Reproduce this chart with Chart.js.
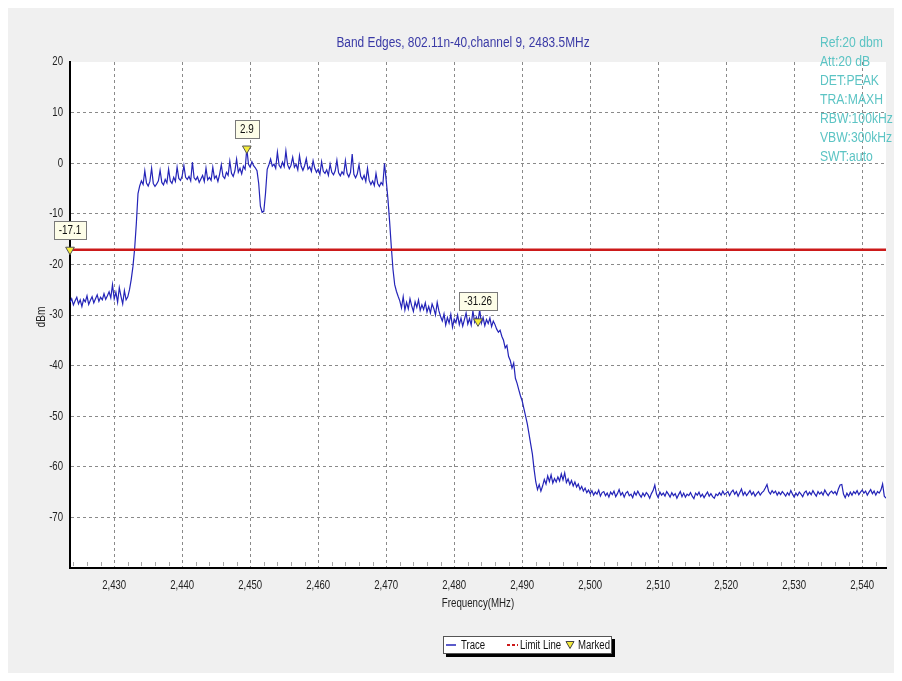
<!DOCTYPE html>
<html><head><meta charset="utf-8">
<script src="https://cdn.jsdelivr.net/npm/chart.js@4.4.1/dist/chart.umd.min.js"></script>
<style>html,body{margin:0;padding:0;background:#fff;}#wrap{width:902px;height:681px;}</style>
</head><body><div id="wrap"><canvas id="c" width="902" height="681" style="width:902px;height:681px"></canvas></div>
<script>
const FONT = '"Liberation Sans",Arial,sans-serif';
const titleText = 'Band Edges, 802.11n-40,channel 9, 2483.5MHz';
const settingsText = ['Ref:20 dbm','Att:20 dB','DET:PEAK','TRA:MAXH','RBW:100kHz','VBW:300kHz','SWT:auto'];
const xTitle = 'Frequency(MHz)';
const yTitle = 'dBm';
const legendLabels = ['Trace','Limit Line','Marked'];
const xTickVals = [2430,2440,2450,2460,2470,2480,2490,2500,2510,2520,2530,2540];
const yTickVals = [-70,-60,-50,-40,-30,-20,-10,0,10,20];
const freqStart = 2423.5, freqStop = 2543.5, freqStep = 0.25;

// trace segments (dBm), sampled every 0.25 MHz from 2423.5 MHz
const lowerSkirt = [-27.5,-26.8,-28.0,-27.2,-26.5,-27.8,-27.0,-28.3,-26.9,-27.4,-26.2,-27.9,-27.1,-26.4,-27.6,-26.8,-26.0,-27.3,-26.5,-27.0,-25.8,-26.9,-26.2,-25.4,-26.6,-24.0,-26.8,-25.5,-27.5,-24.6,-26.3,-27.8,-25.2,-27.0,-26.4];
const riseEdge = [-25.0,-23.0,-20.5,-17.0,-12.0,-6.0,-4.5];
const passbandA = [-3.5,-4.2,-1.5,-3.9,-4.5,-3.6,-1.0,-4.0,-4.6,-4.1,-3.5,-1.4,-3.8,-4.3,-3.2,-3.9,-1.2,-3.5,-4.0,-2.8,-3.6,-0.8,-3.0,-3.4,-2.5,-0.5,-2.8,-3.2,-2.6,-3.5,0.2,-2.9,-3.3,-2.7,-3.8,-3.1,-2.4,-3.6,-1.0,-3.3,-2.8,-3.4,-0.8,-3.0,-2.5,-3.6,-2.2,-0.3,-2.6,-3.0,-1.8,-2.4,0.4,-2.0,-2.6,-1.5,0.8,-1.8,-1.0,-2.1,-0.6,-1.2,2.9,-0.2,-0.8,0.3,-0.5,-0.9,-1.5];
const dipNotch = [-4.0,-8.5,-9.7,-9.5,-6.0,-1.2];
const passbandB = [-0.3,0.8,-0.6,-0.2,-1.0,2.2,-0.4,-0.9,0.2,-0.7,2.4,-0.3,-1.1,-0.4,1.2,-0.8,-0.2,-1.3,1.5,-0.6,-1.4,-0.5,0.9,-1.2,-0.7,-1.6,0.5,-1.0,-1.8,-1.2,-2.2,0.3,-1.6,-2.0,-1.3,-2.4,-0.2,-1.8,-2.3,-1.5,0.6,-1.9,-2.5,-1.7,-2.2,0.5,-2.0,-2.7,-1.8,1.8,-2.2,-2.9,-2.1,-0.3,-2.6,-3.2,-2.4,-3.6,-1.0,-3.4,-4.2,-3.5,-4.4,-2.0,-4.0,-4.6,-3.8,-4.3,0.0,-3.4];
const fallEdge = [-7.0,-11.5,-16.5,-21.0,-24.0,-25.3,-26.3];
const shoulderA = [-27.2,-28.6,-26.4,-29.0,-27.5,-28.8,-26.8,-28.2,-29.3,-27.4,-28.5,-27.0,-29.1,-28.0,-28.9,-27.6,-29.4,-28.3,-29.6,-27.8,-28.7,-30.0,-27.5,-29.2,-30.3];
const shoulderB = [-31.2,-29.8,-32.0,-30.5,-31.6,-29.9,-32.4,-30.8,-31.5,-30.0,-31.9,-30.6,-32.2,-30.9,-29.6,-31.8,-30.7,-32.0,-29.2,-31.4,-30.4,-31.26,-29.0,-31.6,-30.5,-32.1,-30.9,-31.7,-30.6,-32.3,-31.2,-31.9,-32.8,-33.4];
const fallSkirt = [-33.0,-34.2,-35.0,-36.5,-36.0,-38.2,-39.0,-40.5,-39.5,-42.5,-43.5,-44.8,-46.0,-47.0,-48.5,-50.0,-51.5,-53.5,-55.5,-57.5,-60.5,-63.0,-64.5,-63.5,-64.8,-63.8];
const noiseFloor = [-62.5,-63.4,-61.8,
-62.9,-61.6,-63.2,-62.3, -63.0,-62.0,-62.8,-61.4, -62.6,-61.2,-63.1,-62.4, -63.5,-62.7,-63.8,-63.0,
-64.0,-63.4,-64.5,-63.9, -64.8,-64.2,-65.1,-64.6, -65.3,-64.7,-65.6,-65.0, -65.4,-64.6,-65.8,-65.1,
-64.9,-65.7,-65.2,-66.0, -65.0,-65.5,-64.8,-65.9, -65.3,-64.5,-65.6,-65.1, -66.0,-65.2,-64.9,-65.7,
-65.4,-66.1,-65.0,-65.6, -64.8,-65.5,-66.0,-65.2, -65.8,-65.1,-65.5,-66.2, -65.3,-64.7,-63.6,-65.4,
-66.1,-65.0,-65.6,-65.2, -65.8,-64.9,-65.4,-66.0, -65.1,-65.7,-65.3,-66.2, -65.5,-64.9,-65.9,-65.2,
-66.0,-65.4,-65.7,-65.1, -65.8,-66.3,-65.2,-65.6, -65.0,-65.9,-65.4,-66.1, -65.5,-65.0,-65.8,-65.3,
-65.9,-66.2,-65.4,-65.7, -65.1,-65.6,-64.8,-65.5, -65.2,-64.9,-65.7,-65.0, -64.6,-65.4,-64.9,-65.8,
-65.1,-64.4,-65.6,-65.0, -65.7,-65.2,-64.7,-65.5, -65.0,-65.8,-65.3,-64.9, -65.6,-65.1,-64.8,-64.2,
-63.5,-64.9,-65.4,-64.7, -65.2,-64.8,-65.6,-65.0, -65.5,-64.9,-65.3,-65.8, -65.1,-65.6,-64.7,-65.4,
-66.0,-65.2,-65.7,-65.0, -65.4,-65.9,-65.1,-64.8, -65.6,-65.0,-65.5,-64.7, -65.3,-65.8,-64.9,-65.4,
-65.0,-65.6,-64.6,-65.2, -65.7,-65.1,-64.8,-65.3, -64.9,-65.5,-64.4,-63.6, -63.5,-65.4,-66.1,-65.2,
-65.8,-65.0,-65.6,-64.9, -65.3,-64.7,-65.5,-65.0, -64.6,-65.2,-64.8,-65.6, -65.0,-64.5,-65.3,-64.8,
-65.6,-64.9,-65.2,-64.6, -63.4,-65.8,-66.2];

const limitDbm = -17.1;
const markerFreqs = [2423.5, 2449.5, 2483.5];
const markerVals = [-17.1, 2.9, -31.26];
const markerLabels = ['-17.1','2.9','-31.26'];

const trace = [].concat(lowerSkirt, riseEdge, passbandA, dipNotch, passbandB, fallEdge, shoulderA, shoulderB, fallSkirt, noiseFloor);
const tracePts = trace.map((v,i)=>({x: freqStart + i*freqStep, y: v}));

const C_TRACE = '#2424b8', C_LIMIT = '#cc1a1a', C_MARK = '#f4ec3c';
const fmtK = v => String(v).replace(/(\d)(\d{3})$/, '$1,$2');

// condensed text helper (narrow sans look)
function txt(ctx, s, x, y, align, size, sx, color){
  ctx.save();
  ctx.font = size + 'px ' + FONT; ctx.fillStyle = color; ctx.textBaseline = 'middle';
  ctx.translate(x, y); ctx.scale(sx, 1); ctx.textAlign = align;
  ctx.fillText(s, 0, 0);
  ctx.restore();
}
function txtW(ctx, s, size, sx){ ctx.save(); ctx.font = size + 'px ' + FONT; const w = ctx.measureText(s).width * sx; ctx.restore(); return w; }

const deco = {
  id:'deco',
  beforeDraw(chart){
    const ctx = chart.ctx, a = chart.chartArea;
    ctx.save();
    ctx.fillStyle = '#ffffff'; ctx.fillRect(0,0,chart.width,chart.height);
    ctx.fillStyle = '#f0f0f0'; ctx.fillRect(8,8,chart.width-16,chart.height-16);
    ctx.fillStyle = '#ffffff'; ctx.fillRect(a.left,a.top,a.right-a.left,a.bottom-a.top);
    ctx.restore();
  },
  afterDraw(chart){
    const ctx = chart.ctx, a = chart.chartArea, xs = chart.scales.x, ys = chart.scales.y;
    ctx.save();
    // minor ticks
    ctx.strokeStyle = '#a8a8a8'; ctx.lineWidth = 1;
    for (let f = 2424; f <= 2542; f += 2) {
      if (f % 10 === 0) continue;
      const px = Math.round(xs.getPixelForValue(f)) + 0.5;
      ctx.beginPath(); ctx.moveTo(px, a.bottom-2); ctx.lineTo(px, a.bottom-6); ctx.stroke();
    }
    // tick labels
    xTickVals.forEach(v => txt(ctx, fmtK(v), xs.getPixelForValue(v), 586, 'center', 12, 0.8, '#222'));
    yTickVals.forEach(v => txt(ctx, String(v), 63, ys.getPixelForValue(v), 'right', 12, 0.8, '#222'));
    // title
    txt(ctx, titleText, 463, 43, 'center', 14, 0.85, '#3a3aa6');
    // settings
    settingsText.forEach((t,i)=> txt(ctx, t, 820, 43 + i*19.1, 'left', 14, 0.87, '#5cc4c4'));
    // axis titles
    txt(ctx, xTitle, 478, 604, 'center', 12, 0.81, '#222');
    ctx.save(); ctx.translate(42, 317); ctx.rotate(-Math.PI/2); txt(ctx, yTitle, 0, 0, 'center', 12, 0.85, '#222'); ctx.restore();
    // marker labels
    markerFreqs.forEach((f,i)=>{
      const px = xs.getPixelForValue(f), py = ys.getPixelForValue(markerVals[i]);
      const w = Math.round(txtW(ctx, markerLabels[i], 12, 0.82) + 10), h = 18;
      const bx = Math.round(px - w/2) + 0.5, by = Math.round(py - 11 - h) + 0.5;
      ctx.fillStyle = '#fdfde8'; ctx.fillRect(bx, by, w, h);
      ctx.strokeStyle = '#7a7a7a'; ctx.lineWidth = 1; ctx.strokeRect(bx, by, w, h);
      txt(ctx, markerLabels[i], px, by + h/2 + 0.5, 'center', 12, 0.82, '#111');
    });
    // legend
    const lx = 443, ly = 636, lw = 169, lh = 18;
    ctx.fillStyle = '#000'; ctx.fillRect(lx+3, ly+3, lw, lh);
    ctx.fillStyle = '#fff'; ctx.fillRect(lx, ly, lw, lh);
    ctx.strokeStyle = '#555'; ctx.lineWidth = 1; ctx.strokeRect(lx+0.5, ly+0.5, lw-1, lh-1);
    const my = ly + lh/2;
    ctx.strokeStyle = C_TRACE; ctx.lineWidth = 1.5;
    ctx.beginPath(); ctx.moveTo(446, my); ctx.lineTo(456, my); ctx.stroke();
    ctx.strokeStyle = C_LIMIT; ctx.lineWidth = 2; ctx.setLineDash([3,2]);
    ctx.beginPath(); ctx.moveTo(507, my); ctx.lineTo(518, my); ctx.stroke();
    ctx.setLineDash([]);
    ctx.fillStyle = C_MARK; ctx.strokeStyle = '#444'; ctx.lineWidth = 1;
    ctx.beginPath(); ctx.moveTo(566, my-3.5); ctx.lineTo(574, my-3.5); ctx.lineTo(570, my+3.5); ctx.closePath(); ctx.fill(); ctx.stroke();
    txt(ctx, legendLabels[0], 461, my+0.5, 'left', 12, 0.8, '#111');
    txt(ctx, legendLabels[1], 520, my+0.5, 'left', 12, 0.8, '#111');
    txt(ctx, legendLabels[2], 578, my+0.5, 'left', 12, 0.8, '#111');
    ctx.restore();
  }
};

new Chart(document.getElementById('c'), {
  type: 'scatter',
  data: { datasets: [
    { label: legendLabels[2], data: markerFreqs.map((f,i)=>({x:f,y:markerVals[i]})), showLine:false,
      pointStyle:'triangle', rotation:180, pointRadius:5, backgroundColor:C_MARK, borderColor:'#555', borderWidth:1, order:0, clip:false },
    { label: legendLabels[1], data: [{x:freqStart,y:limitDbm},{x:freqStop,y:limitDbm}], showLine:true,
      borderColor:C_LIMIT, borderWidth:2.5, pointRadius:0, order:1 },
    { label: legendLabels[0], data: tracePts, showLine:true, borderColor:C_TRACE, borderWidth:1.2,
      pointRadius:0, tension:0, order:2 }
  ]},
  options: {
    responsive:false, animation:false, devicePixelRatio:1,
    layout:{ padding:{ top:62, right:16, bottom:63, left:0 } },
    plugins:{ legend:{display:false}, title:{display:false}, tooltip:{enabled:false} },
    scales:{
      x:{ type:'linear', min:freqStart, max:freqStop,
        afterBuildTicks: s => { s.ticks = xTickVals.map(v=>({value:v})); },
        afterFit: s => { s.height = 50; },
        ticks:{ autoSkip:false, maxRotation:0, padding:10, color:'rgba(0,0,0,0)', font:{family:FONT, size:12}, callback: v => fmtK(v) },
        grid:{ color:'#8a8a8a', lineWidth:1, drawTicks:false },
        border:{ display:true, color:'#000', width:2, dash:[3,3] } },
      y:{ type:'linear', min:-80, max:20,
        afterBuildTicks: s => { s.ticks = yTickVals.map(v=>({value:v})); },
        afterFit: s => { s.width = 70; },
        ticks:{ autoSkip:false, padding:7, color:'rgba(0,0,0,0)', font:{family:FONT, size:12} },
        grid:{ color: c => (c.tick && c.tick.value === 20) ? 'rgba(0,0,0,0)' : '#8a8a8a', lineWidth:1, drawTicks:false },
        border:{ display:true, color:'#000', width:2, dash:[3,3] } }
    }
  },
  plugins:[deco]
});
</script></body></html>
